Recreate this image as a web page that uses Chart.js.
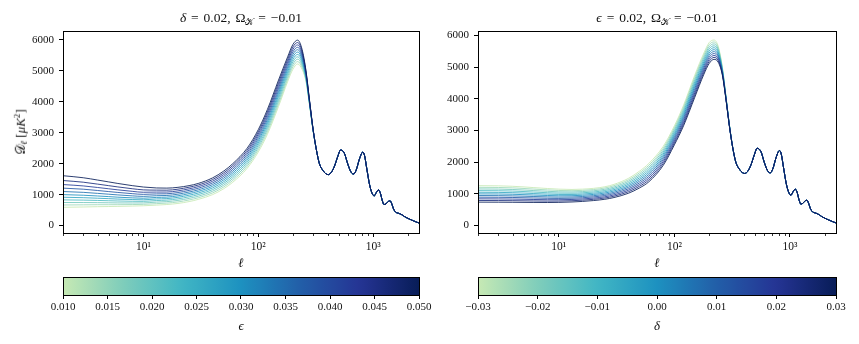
<!DOCTYPE html>
<html>
<head>
<meta charset="utf-8">
<script src="https://cdn.jsdelivr.net/npm/chart.js@4.4.1/dist/chart.umd.min.js"></script>
<style>
  body { margin: 0; background: #fff; }
  #wrap { position: relative; width: 859px; height: 344px; overflow: hidden;
          font-family: "Liberation Serif", "DejaVu Serif", serif; color: #111; }
  canvas { position: absolute; }
  .lbl { position: absolute; transform: translate(-50%, -50%); white-space: nowrap; font-size: 13px; line-height: 1; }
  .ttl { font-size: 13.5px; word-spacing: 1.5px; }
  .lbl sub { font-size: 70%; vertical-align: -0.3em; }
  .lbl sup { font-size: 70%; vertical-align: 0.5em; }
</style>
</head>
<body>
<div id="wrap">
  <canvas id="cLeft" width="430" height="270" style="left:0;top:0"></canvas>
  <canvas id="cRight" width="429" height="270" style="left:430px;top:0"></canvas>
  <canvas id="cbLeft" width="450" height="74" style="left:0;top:270px"></canvas>
  <canvas id="cbRight" width="419" height="74" style="left:440px;top:270px"></canvas>

  <div class="lbl ttl" style="left:241px;top:19px"><i>δ</i> = 0.02, Ω<sub>𝒦</sub> = −0.01</div>
  <div class="lbl ttl" style="left:657px;top:19px"><i>ϵ</i> = 0.02, Ω<sub>𝒦</sub> = −0.01</div>
  <div class="lbl" style="left:21px;top:132px;transform:translate(-50%,-50%) rotate(-90deg)">𝒟<sub><i>ℓ</i></sub> [<i>μK</i><sup>2</sup>]</div>
  <div class="lbl" style="left:241px;top:262px"><i>ℓ</i></div>
  <div class="lbl" style="left:657px;top:262px"><i>ℓ</i></div>
  <div class="lbl" style="left:241px;top:325px"><i>ϵ</i></div>
  <div class="lbl" style="left:657px;top:325px"><i>δ</i></div>
</div>

<script>
// multipole grid where the curves differ, and the shared high-l tail
const lowEll = [2, 3, 4, 5, 6, 8, 10, 13, 16, 20, 25, 30, 40, 50, 60, 80, 100, 120, 150, 180, 200, 220, 240, 260, 280, 300];
const tailEll = [320, 340, 365, 385, 405, 430, 460, 490, 520, 560, 600, 640, 675, 710, 760, 810, 840, 880, 930, 980, 1020, 1060,
                 1110, 1150, 1200, 1240, 1290, 1350, 1400, 1450, 1500, 1570, 1650, 1720, 1800, 1880, 1970, 2050, 2150,
                 2250, 2350, 2450, 2500];
const tailDl = [2450, 2000, 1780, 1680, 1645, 1710, 1920, 2220, 2440, 2340, 1990, 1730, 1665, 1790, 2160, 2370, 2260, 1820, 1310, 1030, 960, 1060,
                1150, 1060, 800, 680, 700, 780, 800, 700, 540, 430, 400, 375, 335, 285, 245, 215, 180,
                150, 120, 95, 85];

// left panel: epsilon varies (delta = 0.02)
const epsValues = [0.010, 0.014, 0.018, 0.022, 0.026, 0.030, 0.034, 0.038, 0.042, 0.046, 0.050];
const epsCurves = [
  [590, 600, 610, 615, 620, 630, 640, 660, 680, 715, 775, 845, 1000, 1190, 1400, 1850, 2380, 2950, 3850, 4650, 5050, 5220, 5050, 4650, 3850, 3050],
  [665, 670, 674, 674, 675, 679, 685, 708, 726, 763, 827, 897, 1054, 1247, 1460, 1915, 2452, 3030, 3935, 4730, 5130, 5297, 5115, 4685, 3865, 3055],
  [745, 744, 741, 736, 732, 730, 732, 758, 773, 813, 878, 948, 1108, 1304, 1520, 1980, 2524, 3110, 4020, 4810, 5210, 5374, 5180, 4720, 3880, 3060],
  [830, 822, 812, 802, 794, 785, 782, 809, 822, 863, 930, 1000, 1162, 1361, 1580, 2045, 2596, 3190, 4105, 4890, 5290, 5451, 5245, 4755, 3895, 3065],
  [915, 901, 884, 869, 856, 841, 833, 860, 871, 913, 981, 1051, 1216, 1418, 1640, 2110, 2668, 3270, 4190, 4970, 5370, 5528, 5310, 4790, 3910, 3070],
  [1000, 980, 956, 935, 917, 895, 883, 910, 919, 962, 1033, 1103, 1270, 1475, 1700, 2175, 2740, 3350, 4275, 5050, 5450, 5605, 5375, 4825, 3925, 3075],
  [1100, 1073, 1040, 1013, 990, 960, 943, 965, 972, 1014, 1084, 1154, 1324, 1532, 1760, 2240, 2812, 3430, 4360, 5130, 5530, 5682, 5440, 4860, 3940, 3080],
  [1210, 1175, 1133, 1098, 1070, 1031, 1008, 1023, 1027, 1067, 1136, 1206, 1378, 1589, 1820, 2305, 2884, 3510, 4445, 5210, 5610, 5759, 5505, 4895, 3955, 3085],
  [1325, 1281, 1230, 1188, 1154, 1106, 1076, 1082, 1083, 1121, 1187, 1257, 1432, 1646, 1880, 2370, 2956, 3590, 4530, 5290, 5690, 5836, 5570, 4930, 3970, 3090],
  [1455, 1401, 1339, 1289, 1248, 1190, 1153, 1145, 1143, 1176, 1239, 1309, 1486, 1703, 1940, 2435, 3028, 3670, 4615, 5370, 5770, 5913, 5635, 4965, 3985, 3095],
  [1610, 1545, 1470, 1410, 1360, 1290, 1245, 1215, 1210, 1235, 1290, 1360, 1540, 1760, 2000, 2500, 3100, 3750, 4700, 5450, 5850, 5990, 5700, 5000, 4000, 3100]
];

// right panel: delta varies (epsilon = 0.02)
const deltaValues = [-0.030, -0.024, -0.018, -0.012, -0.006, 0.000, 0.006, 0.012, 0.018, 0.024, 0.030];
const deltaCurves = [
  [1260, 1255, 1240, 1220, 1200, 1170, 1150, 1140, 1150, 1175, 1225, 1300, 1490, 1720, 1960, 2500, 3150, 3800, 4750, 5450, 5780, 5860, 5650, 5000, 4050, 3150],
  [1208, 1203, 1190, 1171, 1153, 1126, 1108, 1101, 1111, 1137, 1186, 1259, 1443, 1667, 1902, 2440, 3090, 3735, 4680, 5383, 5714, 5799, 5600, 4975, 4040, 3145],
  [1156, 1152, 1139, 1122, 1106, 1082, 1066, 1061, 1072, 1098, 1146, 1217, 1396, 1614, 1844, 2380, 3030, 3670, 4610, 5316, 5648, 5738, 5550, 4950, 4030, 3140],
  [1104, 1100, 1089, 1074, 1059, 1037, 1025, 1022, 1034, 1060, 1107, 1176, 1349, 1561, 1786, 2320, 2970, 3605, 4540, 5249, 5582, 5677, 5500, 4925, 4020, 3135],
  [1052, 1048, 1038, 1025, 1012, 993, 983, 982, 995, 1021, 1067, 1134, 1302, 1508, 1728, 2260, 2910, 3540, 4470, 5182, 5516, 5616, 5450, 4900, 4010, 3130],
  [1000, 997, 988, 976, 965, 949, 941, 943, 956, 983, 1028, 1093, 1255, 1455, 1670, 2200, 2850, 3475, 4400, 5115, 5450, 5555, 5400, 4875, 4000, 3125],
  [948, 945, 937, 927, 918, 905, 899, 903, 917, 944, 988, 1051, 1208, 1402, 1612, 2140, 2790, 3410, 4330, 5048, 5384, 5494, 5350, 4850, 3990, 3120],
  [896, 893, 887, 878, 871, 861, 857, 864, 878, 906, 949, 1010, 1161, 1349, 1554, 2080, 2730, 3345, 4260, 4981, 5318, 5433, 5300, 4825, 3980, 3115],
  [844, 841, 836, 830, 824, 816, 816, 824, 840, 867, 909, 968, 1114, 1296, 1496, 2020, 2670, 3280, 4190, 4914, 5252, 5372, 5250, 4800, 3970, 3110],
  [792, 790, 786, 781, 777, 772, 774, 785, 801, 829, 870, 927, 1067, 1243, 1438, 1960, 2610, 3215, 4120, 4847, 5186, 5311, 5200, 4775, 3960, 3105],
  [740, 738, 735, 732, 730, 728, 732, 745, 762, 790, 830, 885, 1020, 1190, 1380, 1900, 2550, 3150, 4050, 4780, 5120, 5250, 5150, 4750, 3950, 3100]
];

const ellTicks = [10, 100, 1000];
const dlTicks = [0, 1000, 2000, 3000, 4000, 5000, 6000];
const epsTicks = [0.010, 0.015, 0.020, 0.025, 0.030, 0.035, 0.040, 0.045, 0.050];
const deltaTicks = [-0.03, -0.02, -0.01, 0.00, 0.01, 0.02, 0.03];

// YlGnBu, lower quarter cut off
const ylgnbu = ["#ffffd9", "#edf8b1", "#c7e9b4", "#7fcdbb", "#41b6c4", "#1d91c0", "#225ea8", "#253494", "#081d58"];
function cmap(t, alpha) {
  const p = (0.25 + 0.75 * t) * (ylgnbu.length - 1);
  const i = Math.min(Math.floor(p), ylgnbu.length - 2);
  const f = p - i;
  const a = ylgnbu[i], b = ylgnbu[i + 1];
  const c = [1, 3, 5].map(k => Math.round(parseInt(a.substr(k, 2), 16) * (1 - f) + parseInt(b.substr(k, 2), 16) * f));
  return `rgba(${c[0]},${c[1]},${c[2]},${alpha === undefined ? 1 : alpha})`;
}

Chart.defaults.font.family = "'Liberation Serif', 'DejaVu Serif', serif";
Chart.defaults.font.size = 11;
Chart.defaults.color = "#111";

const sup = { 1: "¹", 2: "²", 3: "³" };

// all x positions where matplotlib puts a (major or minor) log tick
const logTickPos = [];
[1, 10, 100, 1000].forEach(d => { for (let m = 1; m <= 9; m++) { const v = m * d; if (v >= 2 && v <= 2500) logTickPos.push(v); } });

const framePlugin = {
  id: "frame",
  afterDraw(chart) {
    const ctx = chart.ctx;
    const a = chart.chartArea;
    ctx.save();
    ctx.strokeStyle = "#000";
    ctx.lineWidth = 1;
    ctx.strokeRect(Math.round(a.left) + 0.5, Math.round(a.top) + 0.5,
                   Math.round(a.right) - Math.round(a.left), Math.round(a.bottom) - Math.round(a.top));
    const xs = chart.scales.x;
    if (xs.type === "logarithmic") {
      ctx.lineWidth = 0.8;
      logTickPos.forEach(v => {
        if (ellTicks.includes(v)) return;
        const px = Math.round(xs.getPixelForValue(v)) + 0.5;
        ctx.beginPath();
        ctx.moveTo(px, Math.round(a.bottom) + 1);
        ctx.lineTo(px, Math.round(a.bottom) + 3);
        ctx.stroke();
      });
    }
    ctx.restore();
  }
};

function buildDatasets(curves, values, vmin, vmax) {
  const sets = [];
  // darkest first so it ends up drawn on top
  for (let i = curves.length - 1; i >= 0; i--) {
    const pts = lowEll.map((l, j) => ({ x: l, y: curves[i][j] }))
      .concat(tailEll.map((l, j) => ({ x: l, y: tailDl[j] })));
    sets.push({
      data: pts,
      borderColor: cmap((values[i] - vmin) / (vmax - vmin), 0.85),
      borderWidth: 1,
      pointRadius: 0,
      cubicInterpolationMode: "monotone",
      fill: false
    });
  }
  return sets;
}

function mainChart(id, curves, values, vmin, vmax, yMin, yMax, yWidth, padRight) {
  return new Chart(document.getElementById(id).getContext("2d"), {
    type: "line",
    data: { datasets: buildDatasets(curves, values, vmin, vmax) },
    options: {
      responsive: false,
      animation: false,
      layout: { padding: { top: 31, right: padRight, left: 0, bottom: 0 } },
      plugins: { legend: { display: false }, tooltip: { enabled: false } },
      scales: {
        x: {
          type: "logarithmic",
          min: 2,
          max: 2500,
          afterBuildTicks: s => { s.ticks = logTickPos.map(v => ({ value: v })); },
          afterFit: s => { s.height = 37; },
          grid: {
            drawOnChartArea: false, drawTicks: true, tickLength: 4,
            tickColor: c => (c.tick && ellTicks.includes(c.tick.value) ? "#000" : "rgba(0,0,0,0)")
          },
          border: { display: false },
          ticks: {
            autoSkip: false, maxRotation: 0, padding: 3,
            font: { size: 11.5 },
            callback: v => (ellTicks.includes(v) ? "10" + sup[Math.round(Math.log10(v))] : "")
          }
        },
        y: {
          type: "linear",
          min: yMin,
          max: yMax,
          afterBuildTicks: s => { s.ticks = dlTicks.map(v => ({ value: v })); },
          afterFit: s => { s.width = yWidth; },
          grid: { drawOnChartArea: false, drawTicks: true, tickLength: 4, tickColor: "#000" },
          border: { display: false },
          ticks: { padding: 5, callback: v => String(v) }
        }
      }
    },
    plugins: [framePlugin]
  });
}

function colorbar(id, range, ticks, fmt, padLeft, padRight) {
  return new Chart(document.getElementById(id).getContext("2d"), {
    type: "bar",
    data: {
      labels: [""],
      datasets: [{
        data: [[range[0], range[1]]],
        barPercentage: 1,
        categoryPercentage: 1,
        borderWidth: 0,
        backgroundColor: c => {
          const a = c.chart.chartArea;
          if (!a) return "#888";
          const g = c.chart.ctx.createLinearGradient(a.left, 0, a.right, 0);
          for (let k = 0; k <= 40; k++) g.addColorStop(k / 40, cmap(k / 40));
          return g;
        }
      }]
    },
    options: {
      indexAxis: "y",
      responsive: false,
      animation: false,
      layout: { padding: { top: 7, left: padLeft, right: padRight, bottom: 0 } },
      plugins: { legend: { display: false }, tooltip: { enabled: false } },
      scales: {
        x: {
          type: "linear",
          min: range[0],
          max: range[1],
          afterBuildTicks: s => { s.ticks = ticks.map(v => ({ value: v })); },
          afterFit: s => { s.height = 49; },
          grid: { drawOnChartArea: false, drawTicks: true, tickLength: 4, tickColor: "#000" },
          border: { display: false },
          ticks: { autoSkip: false, maxRotation: 0, padding: 2, callback: fmt }
        },
        y: { display: false }
      }
    },
    plugins: [framePlugin]
  });
}

mainChart("cLeft", epsCurves, epsValues, 0.010, 0.050, -240, 6285, 63, 11);
mainChart("cRight", deltaCurves, deltaValues, -0.030, 0.030, -235, 6145, 48, 23);
colorbar("cbLeft", [0.010, 0.050], epsTicks, v => v.toFixed(3), 63, 31);
colorbar("cbRight", [-0.03, 0.03], deltaTicks,
  v => (v < -1e-9 ? "\u2212" + Math.abs(v).toFixed(2) : Math.abs(v).toFixed(2)), 38, 23);
</script>
</body>
</html>
